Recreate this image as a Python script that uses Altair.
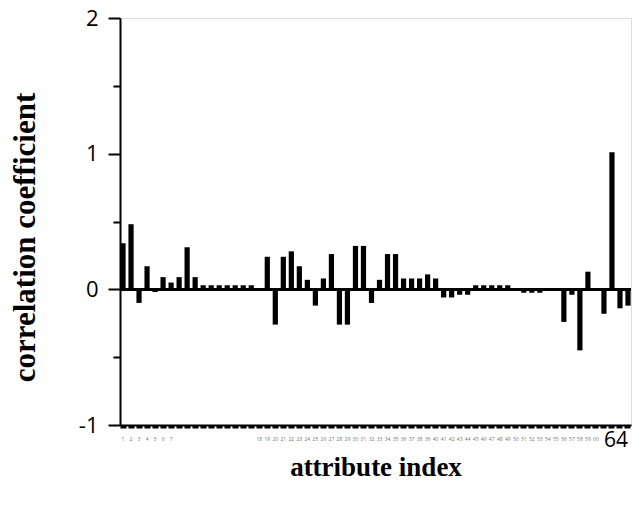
import altair as alt
import pandas as pd

attr_index = list(range(1, 65))
corr = [0.34, 0.48, -0.10, 0.17, -0.02, 0.09, 0.05, 0.09, 0.31, 0.09,
        0.03, 0.03, 0.03, 0.03, 0.03, 0.03, 0.03, 0.0, 0.24, -0.26,
        0.24, 0.28, 0.17, 0.07, -0.12, 0.08, 0.26, -0.26, -0.26, 0.32,
        0.32, -0.10, 0.07, 0.26, 0.26, 0.08, 0.08, 0.08, 0.11, 0.08,
        -0.06, -0.06, -0.04, -0.04, 0.03, 0.03, 0.03, 0.03, 0.03, 0.0,
        -0.025, -0.025, -0.025, 0.0, 0.0, -0.24, -0.04, -0.45, 0.13, 0.0,
        -0.18, 1.01, -0.14, -0.12]
y_ticks = [-1, -0.5, 0, 0.5, 1, 1.5, 2]

df = pd.DataFrame({"attr": attr_index, "corr": corr})

x_enc = alt.X(
    "attr:O",
    sort=attr_index,
    scale=alt.Scale(paddingInner=0.35, paddingOuter=0.05),
    axis=alt.Axis(
        title="attribute index",
        titleFont="Liberation Serif",
        titleFontSize=27,
        titleFontWeight="bold",
        titleColor="black",
        titleBaseline="middle",
        titleY=42,
        labelExpr="(datum.value <= 7 || (datum.value >= 18 && datum.value <= 60) || datum.value == 64) ? '' + datum.value : ''",
        labelFont="Open Sans",
        labelFontSize={"condition": {"test": "datum.value == 64", "value": 21}, "value": 5},
        labelColor={"condition": {"test": "datum.value == 64", "value": "black"}, "value": "#777777"},
        labelAngle=0,
        labelAlign={"condition": {"test": "datum.value == 64", "value": "right"}, "value": "center"},
        labelBaseline="middle",
        labelPadding={"condition": {"test": "datum.value == 64", "value": 12}, "value": 10},
        labelOverlap=False,
        tickSize=3,
        tickWidth=6,
        tickColor="black",
        domainColor="black",
        domainWidth=2,
    ),
)

y_axis = alt.Axis(
    title="correlation coefficient",
    titleFont="Liberation Serif",
    titleFontSize=31,
    titleFontWeight="bold",
    titleColor="black",
    titleAngle=-90,
    titleAlign="center",
    titleBaseline="middle",
    titleX=-95,
    titleY=219,
    values=y_ticks,
    labelExpr="datum.value % 1 === 0 ? '' + datum.value : ''",
    labelFont="Open Sans",
    labelFontSize=22,
    labelColor="black",
    labelPadding=10,
    tickSize={"condition": {"test": "datum.value % 1 === 0", "value": 12}, "value": 7},
    tickWidth=2,
    tickColor="black",
    domainColor="black",
    domainWidth=2,
    grid=False,
)

bars = alt.Chart(df).mark_bar(color="black").encode(
    x=x_enc,
    y=alt.Y("corr:Q", scale=alt.Scale(domain=[-1, 2], nice=False, zero=False), axis=y_axis),
    y2=alt.datum(0),
)

zero = alt.Chart(df).mark_rule(color="black", strokeWidth=2).encode(y=alt.datum(0))

chart = alt.layer(bars, zero).properties(
    width=511,
    height=407,
    autosize=alt.AutoSizeParams(type="none"),
    padding={"left": 120, "top": 18, "right": 6, "bottom": 89},
).configure_view(stroke="black", strokeWidth=2).configure(background="white")

chart.save("out.html", embed_options={"renderer": "svg", "actions": False})
